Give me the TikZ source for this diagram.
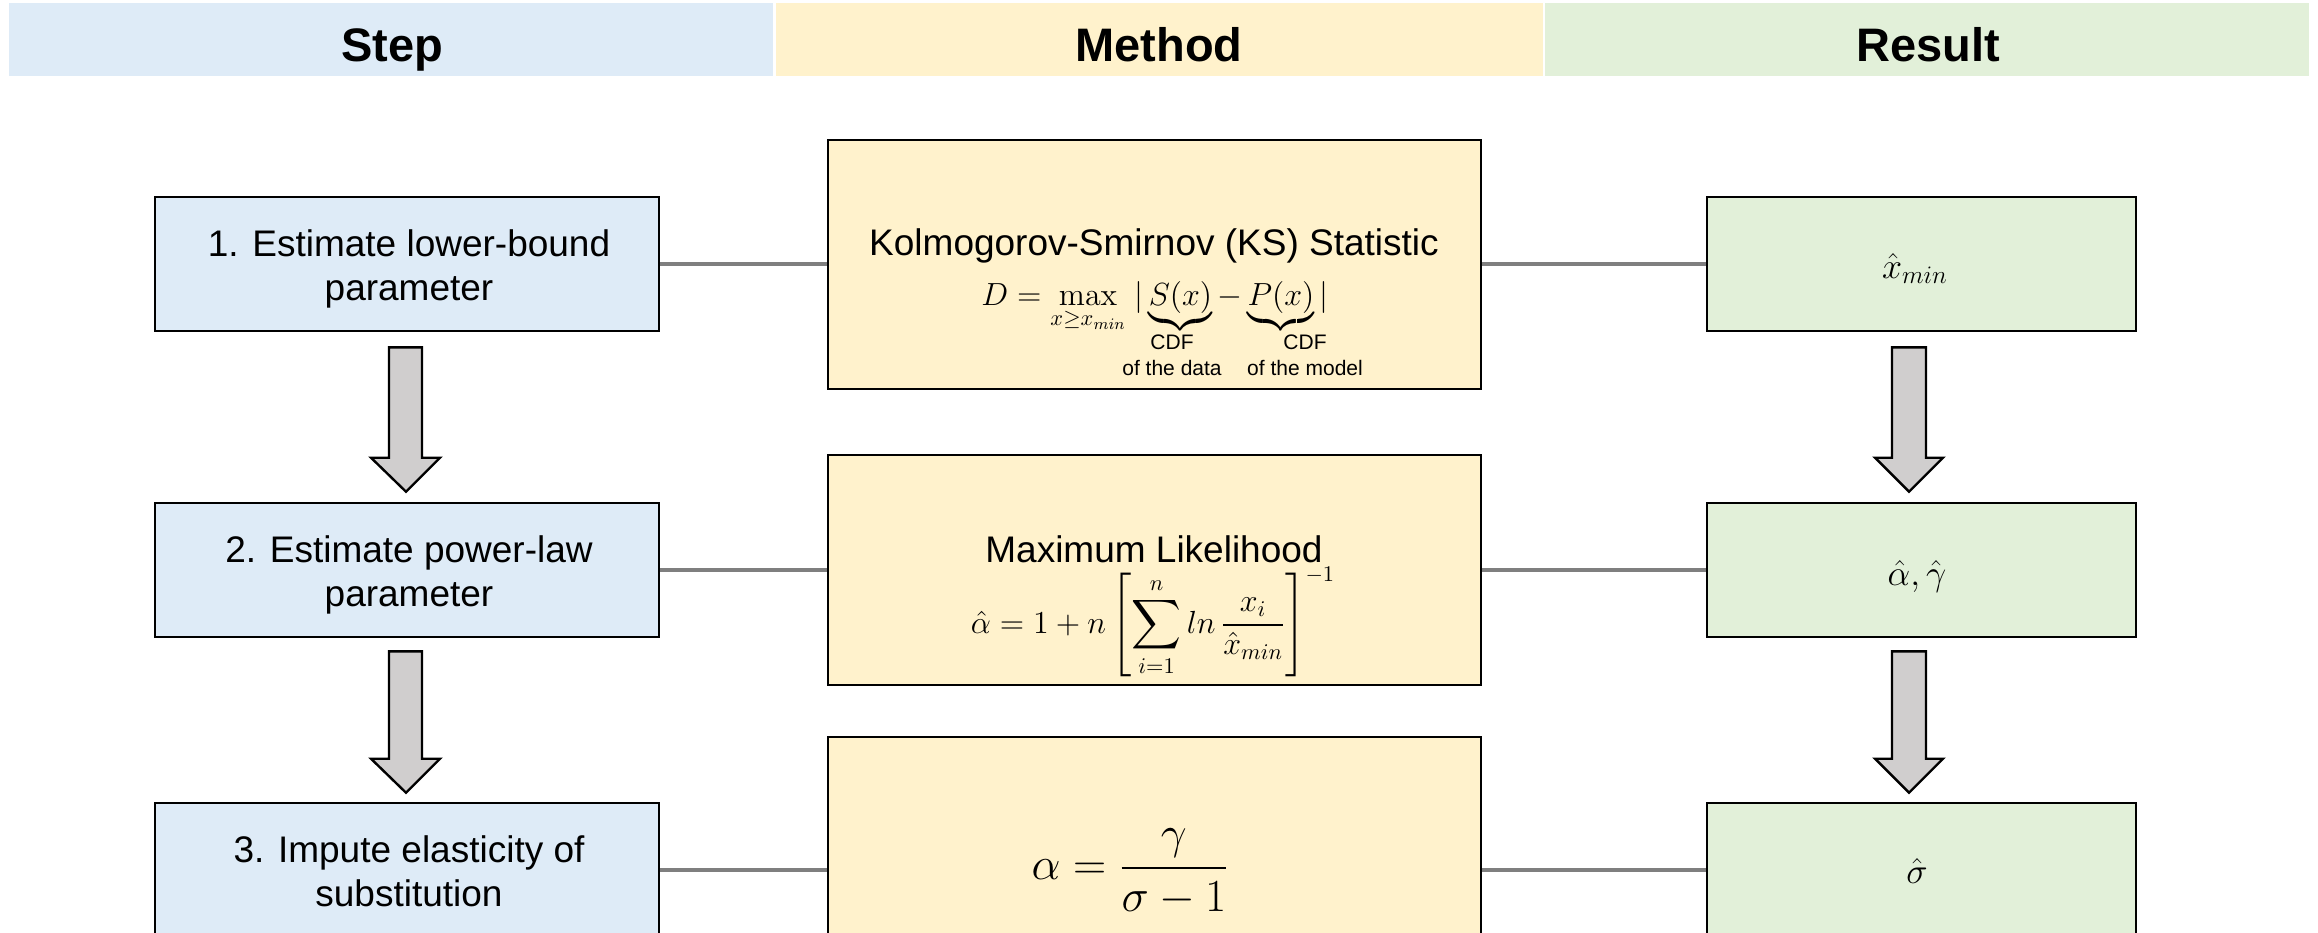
\RequirePackage{fix-cm}
\documentclass[tikz,border=0pt]{standalone}
\usepackage{amsmath}
\usepackage[no-math]{fontspec}
\setmainfont{Liberation Sans}
\usetikzlibrary{calc}
\definecolor{hblue}{HTML}{DEEBF7}
\definecolor{hyellow}{HTML}{FFF2CC}
\definecolor{hgreen}{HTML}{E2F0D9}
\definecolor{agray}{HTML}{D0CECE}
\definecolor{cgray}{HTML}{7F7F7F}
\newcommand\myhead{\fontsize{23.5}{28}\selectfont\bfseries}
\newcommand\mybody{\fontsize{18.5}{22}\selectfont}
\newcommand\mysmall{\fontsize{10.5}{13}\selectfont}
\newcommand\mymath{\fontsize{16}{19}\selectfont}
\newcommand\mybig{\fontsize{23}{27}\selectfont}
\newcommand\myres{\fontsize{18}{21}\selectfont}
\tikzset{
  band/.style={draw=none, inner sep=0pt, minimum height=36.5pt},
  box/.style={draw=black, line width=1.3pt, inner sep=0pt},
  stepbox/.style={box, fill=hblue, minimum width=252pt, minimum height=67pt},
  methbox/.style={box, fill=hyellow, minimum width=326.5pt},
  resbox/.style={box, fill=hgreen, minimum width=214.5pt, minimum height=67pt},
  htext/.style={font=\myhead, anchor=base, inner sep=0pt},
  btext/.style={font=\mybody, align=center, anchor=base, inner sep=0pt},
  stext/.style={font=\mysmall, align=center, anchor=base, inner sep=0pt},
  mtext/.style={font=\mymath, anchor=base, inner sep=0pt},
  rtext/.style={font=\myres, anchor=base, inner sep=0pt},
  conn/.style={draw=cgray, line width=1.75pt},
  barrow/.style={fill=agray, draw=black, line width=1.2pt, line join=miter},
}
\begin{document}
\begin{tikzpicture}[x=0.5pt,y=-0.5pt]
\useasboundingbox (0,0) rectangle (2318,932);
\clip (0,0) rectangle (2318,932);
\fill[white] (0,0) rectangle (2318,932);
% header
\node[band, fill=hblue, minimum width=382pt] (hb) at (391,39.5) {};
\node[band, fill=hyellow, minimum width=383.5pt] (hy) at (1159.5,39.5) {};
\node[band, fill=hgreen, minimum width=382pt] (hg) at (1927,39.5) {};
\node[htext] (tstep) at (392,61) {Step};
\node[htext] (tmeth) at (1159,61) {Method};
\node[htext] (tres) at (1928,61) {Result};
% boxes
\node[stepbox] (s1) at (407,264) {};
\node[stepbox] (s2) at (407,570) {};
\node[stepbox] (s3) at (407,870) {};
\node[methbox, minimum height=124.5pt] (m1) at (1154.5,264.5) {};
\node[methbox, minimum height=115pt] (m2) at (1154.5,570) {};
\node[methbox, minimum height=132pt] (m3) at (1154.5,869) {};
\node[resbox] (r1) at (1921.5,264) {};
\node[resbox] (r2) at (1921.5,570) {};
\node[resbox] (r3) at (1921.5,870) {};
% connectors
\draw[conn] (s1.east) -- (s1.east -| m1.west);
\draw[conn] (r1.west -| m1.east) -- (r1.west);
\draw[conn] (s2.east) -- (s2.east -| m2.west);
\draw[conn] (r2.west -| m2.east) -- (r2.west);
\draw[conn] (s3.east) -- (s3.east -| m3.west);
\draw[conn] (r3.west -| m3.east) -- (r3.west);
% step texts (base = baseline of last line)
\node[btext] (st1) at (409,300) {1. Estimate lower-bound\\parameter};
\node[btext] (st2) at (409,606) {2. Estimate power-law\\parameter};
\node[btext] (st3) at (409,906) {3. Impute elasticity of\\substitution};
% method texts
\node[font=\mybody, anchor=base, inner sep=0pt] (mt1) at (1154,255) {Kolmogorov-Smirnov (KS) Statistic};
\node[mtext] (mf1) at (1155,305) {$\displaystyle D = \max_{x\geq x_{min}}\ \lvert\,\underbrace{S(x)} - \underbrace{P(x)}\,\rvert$};
\node[stext] (cdf1) at (1172,375) {CDF\\of the data};
\node[stext] (cdf2) at (1305,375) {CDF\\of the model};
\node[font=\mybody, anchor=base, inner sep=0pt] (mt2) at (1154,562) {Maximum Likelihood};
\node[mtext] (mf2) at (1153,633) {$\displaystyle \hat{\alpha} = 1 + n\left[\sum_{i=1}^{n} ln\,\frac{x_i}{\hat{x}_{min}}\right]^{-1}$};
\node[font=\mybig, inner sep=0pt] (mf3) at (1130,872) {$\displaystyle \alpha = \frac{\gamma}{\sigma - 1}$};
% result texts
\node[rtext] (rt1) at (1915,278) {$\hat{x}_{min}$};
\node[rtext] (rt2) at (1917,585) {$\hat{\alpha},\hat{\gamma}$};
\node[rtext] (rt3) at (1917,883) {$\hat{\sigma}$};
% block arrows
\draw[barrow] ($(s1.south)+(-18,15)$) -- ($(s1.south)+(15,15)$) -- ($(s2.north)+(15,-44)$) -- ($(s2.north)+(33,-44)$) -- ($(s2.north)+(-1,-10)$) -- ($(s2.north)+(-36,-44)$) -- ($(s2.north)+(-18,-44)$) -- cycle;
\draw[barrow] ($(s2.south)+(-18,13)$) -- ($(s2.south)+(15,13)$) -- ($(s3.north)+(15,-43)$) -- ($(s3.north)+(33,-43)$) -- ($(s3.north)+(-1,-9)$) -- ($(s3.north)+(-36,-43)$) -- ($(s3.north)+(-18,-43)$) -- cycle;
\draw[barrow] ($(r1.south)+(-29.5,15)$) -- ($(r1.south)+(4.5,15)$) -- ($(r2.north)+(4.5,-44)$) -- ($(r2.north)+(21.5,-44)$) -- ($(r2.north)+(-12.5,-10)$) -- ($(r2.north)+(-46.5,-44)$) -- ($(r2.north)+(-29.5,-44)$) -- cycle;
\draw[barrow] ($(r2.south)+(-29.5,13)$) -- ($(r2.south)+(4.5,13)$) -- ($(r3.north)+(4.5,-43)$) -- ($(r3.north)+(21.5,-43)$) -- ($(r3.north)+(-12.5,-9)$) -- ($(r3.north)+(-46.5,-43)$) -- ($(r3.north)+(-29.5,-43)$) -- cycle;
\end{tikzpicture}
\end{document}
